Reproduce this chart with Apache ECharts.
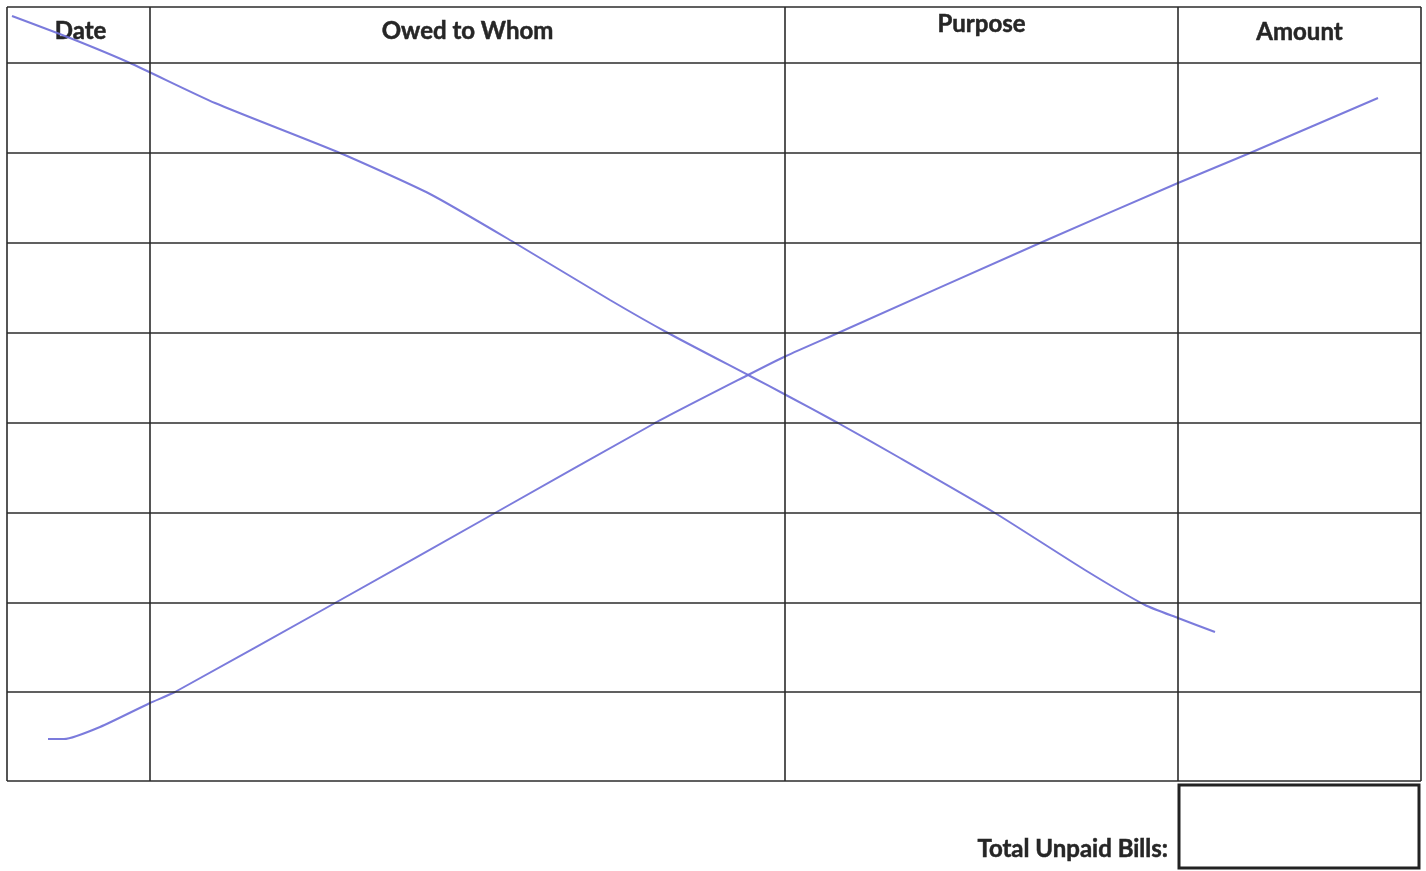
<!DOCTYPE html>
<html>
<head>
<meta charset="utf-8">
<script src="https://cdn.jsdelivr.net/npm/echarts@6/dist/echarts.min.js"></script>
<style>
  html, body { margin: 0; padding: 0; background: #fff; }
  #chart { width: 1426px; height: 871px; }
</style>
</head>
<body>
<div id="chart"></div>
<script>
// table structure (page coordinates, y grows downward)
const colEdges = [7, 150, 785, 1178, 1421];
const rowEdges = [7, 63, 153, 243, 333, 423, 513, 603, 692, 781];
const headers = ['Date', 'Owed to Whom', 'Purpose', 'Amount'];
const totalLabel = 'Total Unpaid Bills:';
const totalBox = [[1179, 785], [1419, 868]];

// hand-drawn strike lines
const descLine = [
  [12, 16], [70, 38], [130, 63], [215, 103], [340, 153], [430, 194],
  [515, 243], [610, 300], [668, 333], [750, 376], [786, 395], [838, 423],
  [900, 458], [995, 513], [1085, 570], [1145, 605], [1178, 618], [1215, 632]
];
const ascLine = [
  [48, 739], [64, 739], [100, 727], [150, 703], [175, 692], [335, 603],
  [495, 513], [655, 423], [750, 374], [786, 356], [838, 333], [1040, 243],
  [1178, 183], [1250, 153], [1378, 98]
];

const chart = echarts.init(document.getElementById('chart'));

const tableTop = rowEdges[0], tableBottom = rowEdges[rowEdges.length - 1];
const tableLeft = colEdges[0], tableRight = colEdges[colEdges.length - 1];

const gridLines = [
  ...colEdges.map(x => [{coord: [x, tableTop]}, {coord: [x, tableBottom]}]),
  ...rowEdges.map(y => [{coord: [tableLeft, y]}, {coord: [tableRight, y]}])
];

const headerFont = {
  fontFamily: 'Lato', fontWeight: 'bold', fontSize: 24,
  fill: '#262626', stroke: '#262626', lineWidth: 0.5
};
const headerY = [31, 31, 24, 32];

const option = {
  animation: false,
  backgroundColor: '#fff',
  grid: {left: 0, right: 0, top: 0, bottom: 0},
  xAxis: {type: 'value', min: 0, max: 1426, show: false},
  yAxis: {type: 'value', min: 0, max: 871, inverse: true, show: false},
  series: [
    {
      name: 'table',
      type: 'line',
      data: [],
      silent: true,
      markLine: {
        silent: true,
        symbol: 'none',
        label: {show: false},
        lineStyle: {color: '#2b2b2b', width: 1.6, type: 'solid'},
        data: gridLines
      },
      markArea: {
        silent: true,
        itemStyle: {color: 'rgba(0,0,0,0)', borderColor: '#222', borderWidth: 3},
        data: [[{coord: totalBox[0]}, {coord: totalBox[1]}]]
      }
    },
    {
      name: 'strike1',
      type: 'line',
      data: descLine,
      smooth: 0.2,
      showSymbol: false,
      lineStyle: {color: '#6d6dd8', width: 2, opacity: 0.9}
    },
    {
      name: 'strike2',
      type: 'line',
      data: ascLine,
      smooth: 0.2,
      showSymbol: false,
      lineStyle: {color: '#6d6dd8', width: 2, opacity: 0.9}
    }
  ],
  graphic: [
    ...headers.map((h, i) => ({
      type: 'text',
      x: (colEdges[i] + colEdges[i + 1]) / 2 + (i === 0 ? 2 : 0),
      y: headerY[i],
      style: Object.assign({text: h, align: 'center', verticalAlign: 'middle'}, headerFont)
    })),
    {
      type: 'text',
      x: 1168,
      y: 849,
      style: Object.assign({text: totalLabel, align: 'right', verticalAlign: 'middle'}, headerFont)
    }
  ]
};

chart.setOption(option);
window.addEventListener('resize', () => chart.resize());
</script>
</body>
</html>
